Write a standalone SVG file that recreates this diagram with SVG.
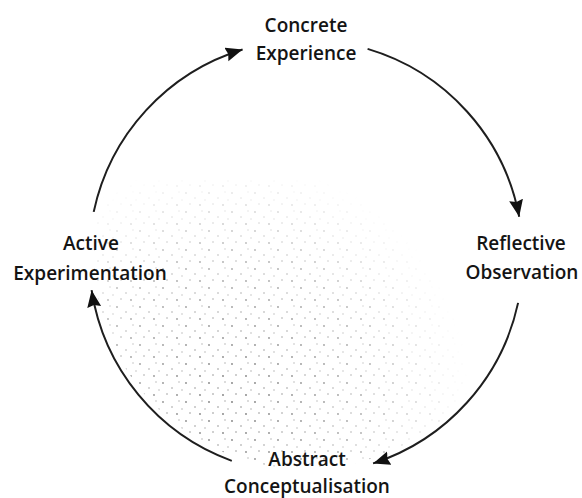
<svg xmlns="http://www.w3.org/2000/svg" width="582" height="498" viewBox="0 0 582 498">
  <style>
    .lbl { font-family: "Open Sans", "Noto Sans", "DejaVu Sans", sans-serif; font-size: 19px; font-weight: 600; fill: #141414; text-anchor: middle; }
    .arc { fill: none; stroke: #1e1e1e; stroke-width: 2; }
  </style>
  <defs>
    <marker id="ah" markerUnits="userSpaceOnUse" markerWidth="20" markerHeight="16" refX="17" refY="7" orient="auto">
      <path d="M0,0 L17,7 L0,14 L2,7 Z" fill="#111"/>
    </marker>
    <pattern id="dots" patternUnits="userSpaceOnUse" width="23" height="19">
      <circle cx="2" cy="3" r="0.9" fill="#777"/>
      <circle cx="11" cy="8" r="0.8" fill="#888"/>
      <circle cx="18" cy="2" r="0.7" fill="#999"/>
      <circle cx="6" cy="14" r="0.8" fill="#888"/>
      <circle cx="16" cy="15" r="0.9" fill="#777"/>
      <circle cx="21" cy="10" r="0.7" fill="#999"/>
    </pattern>
    <radialGradient id="fade" cx="230" cy="400" r="240" gradientUnits="userSpaceOnUse">
      <stop offset="0" stop-color="#fff" stop-opacity="1"/>
      <stop offset="0.6" stop-color="#fff" stop-opacity="0.6"/>
      <stop offset="1" stop-color="#fff" stop-opacity="0"/>
    </radialGradient>
    <mask id="m">
      <circle cx="306" cy="257" r="214" fill="url(#fade)"/>
    </mask>
    <clipPath id="c"><circle cx="306" cy="257" r="212"/></clipPath>
  </defs>
  <rect width="582" height="498" fill="#ffffff"/>
  <g id="stipple" clip-path="url(#c)">
    <rect x="90" y="180" width="430" height="300" fill="url(#dots)" mask="url(#m)"/>
  </g>
  <g id="connectors">
    <path class="arc" d="M93.7,211.9 A217,217 0 0 1 242.6,49.5" marker-end="url(#ah)"/>
    <path class="arc" d="M367.6,48.9 A217,217 0 0 1 519.2,216.7" marker-end="url(#ah)"/>
    <path class="arc" d="M518.1,302.9 A217,217 0 0 1 373.1,463.4" marker-end="url(#ah)"/>
    <path class="arc" d="M231.8,460.9 A217,217 0 0 1 91.6,290.2" marker-end="url(#ah)"/>
  </g>
  <g id="concrete-experience">
    <text class="lbl" x="306" y="32">Concrete</text>
    <text class="lbl" x="306" y="60">Experience</text>
  </g>
  <g id="reflective-observation">
    <text class="lbl" x="521" y="250">Reflective</text>
    <text class="lbl" x="522" y="279">Observation</text>
  </g>
  <g id="abstract-conceptualisation">
    <text class="lbl" x="307" y="466" font-weight="700">Abstract</text>
    <text class="lbl" x="307" y="493">Conceptualisation</text>
  </g>
  <g id="active-experimentation">
    <text class="lbl" x="91" y="250">Active</text>
    <text class="lbl" x="90" y="280">Experimentation</text>
  </g>
</svg>
